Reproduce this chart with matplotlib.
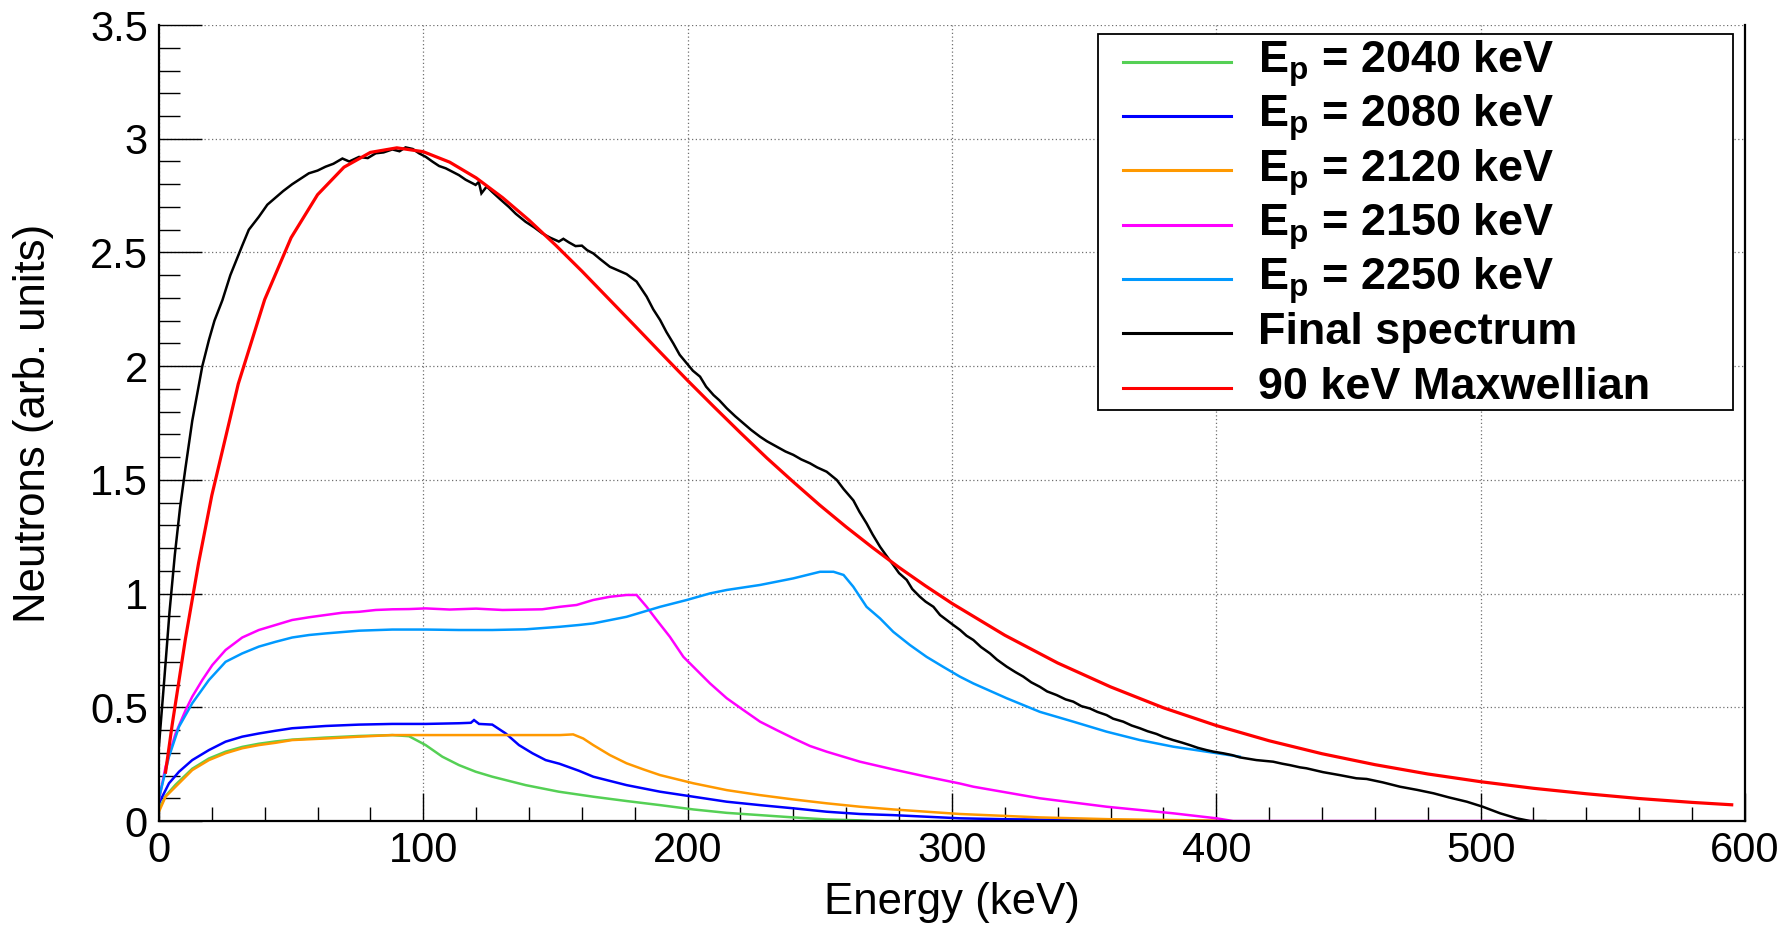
import matplotlib
matplotlib.use("Agg")
import matplotlib.pyplot as plt
import numpy as np
from matplotlib.ticker import MultipleLocator, FuncFormatter
from matplotlib.lines import Line2D

plt.rcParams["font.family"] = ["Liberation Sans", "DejaVu Sans"]
plt.rcParams["mathtext.fontset"] = "custom"
plt.rcParams["mathtext.rm"] = "Liberation Sans"
plt.rcParams["mathtext.bf"] = "Liberation Sans:bold"

# Espectros de neutrones por energia de proton (keV, unidades arbitrarias)
E_2040 = [0, 2.5, 6.3, 12.6, 18.9, 25.2, 31.5, 37.8, 44.1, 50.4, 63, 75.7, 88.3, 94.6,
          100.9, 107.2, 113.5, 119.8, 126.1, 138.7, 151.3, 164.3, 176.9, 189.6, 202.2,
          214.8, 227.4, 240, 252.6, 265.2, 270]
n_2040 = [0.05, 0.11, 0.16, 0.23, 0.275, 0.305, 0.326, 0.34, 0.35, 0.358, 0.367, 0.374,
          0.378, 0.373, 0.334, 0.283, 0.246, 0.217, 0.195, 0.158, 0.129, 0.107, 0.088,
          0.07, 0.051, 0.036, 0.026, 0.016, 0.007, 0.003, 0.0]

E_2080 = [0, 3.8, 7.6, 12.6, 18.9, 25.2, 31.5, 37.8, 44.1, 50.4, 63.1, 75.7, 88.3, 100.9,
          113.5, 118, 119.2, 121.1, 126.1, 131.2, 136.2, 141.3, 146.3, 151.5, 158.9, 164.3,
          176.9, 189.6, 202.2, 214.8, 227.4, 240, 252.6, 265.2, 277.8, 290.4, 303, 320,
          350, 375]
n_2080 = [0.078, 0.166, 0.217, 0.268, 0.312, 0.349, 0.371, 0.385, 0.397, 0.408, 0.418,
          0.424, 0.427, 0.427, 0.43, 0.432, 0.444, 0.427, 0.424, 0.385, 0.334, 0.298, 0.268,
          0.252, 0.221, 0.195, 0.158, 0.129, 0.107, 0.085, 0.07, 0.056, 0.041, 0.031, 0.026,
          0.019, 0.012, 0.008, 0.004, 0.002]

E_2120 = [0, 2.5, 6.3, 12.6, 18.9, 25.2, 31.5, 37.8, 44.1, 50.4, 63.1, 75.7, 88.3, 100.9,
          120, 140, 151.7, 156.7, 160.5, 164.3, 170.6, 176.9, 183.3, 189.6, 202.2, 214.8,
          227.4, 240, 252.6, 265.2, 277.8, 290.4, 303, 333.3, 360, 400]
n_2120 = [0.041, 0.107, 0.151, 0.224, 0.268, 0.298, 0.32, 0.334, 0.344, 0.356, 0.363,
          0.371, 0.378, 0.378, 0.378, 0.378, 0.378, 0.381, 0.363, 0.334, 0.29, 0.254, 0.227,
          0.202, 0.166, 0.136, 0.114, 0.095, 0.078, 0.063, 0.051, 0.041, 0.031, 0.016,
          0.008, 0.002]

E_2150 = [0, 2.5, 6.3, 10.1, 12.6, 16.4, 20.2, 25.2, 31.5, 37.8, 44.1, 50.4, 56.8, 63.1,
          69.4, 75.7, 82, 88.3, 94.6, 100.9, 110, 120, 130, 145, 151.7, 158, 164.3, 170.6,
          176.9, 180.7, 184.5, 188.3, 193.3, 198.4, 202.2, 208.5, 214.8, 221.1, 227.4,
          233.7, 240, 246.3, 252.6, 258.9, 265.2, 277.8, 290.4, 303, 308.1, 333.3, 358.5,
          383.7, 400.1, 406.4, 520]
n_2150 = [0.092, 0.239, 0.385, 0.488, 0.547, 0.62, 0.686, 0.752, 0.807, 0.84, 0.862,
          0.884, 0.896, 0.906, 0.916, 0.92, 0.928, 0.931, 0.932, 0.935, 0.93, 0.934, 0.928,
          0.931, 0.942, 0.95, 0.972, 0.986, 0.994, 0.994, 0.942, 0.884, 0.81, 0.722, 0.678,
          0.605, 0.54, 0.488, 0.437, 0.40, 0.364, 0.33, 0.305, 0.283, 0.261, 0.227, 0.195,
          0.165, 0.151, 0.10, 0.063, 0.034, 0.012, 0.0, 0.0]

E_2250 = [0, 3.8, 7.6, 12.6, 18.9, 25.2, 31.5, 37.8, 44.1, 50.4, 56.8, 63.1, 75.7, 88.3,
          100.9, 113.5, 126.1, 138.7, 151.5, 158.9, 164.3, 176.9, 189.6, 199.7, 208.5,
          214.8, 227.4, 240, 250.1, 255.2, 259, 262.7, 267.7, 272.8, 277.8, 284.1, 290.4,
          296.7, 303, 308.1, 320.7, 333.3, 345.9, 358.5, 371.1, 383.7, 396.3, 408.9]
n_2250 = [0.1, 0.283, 0.415, 0.518, 0.62, 0.70, 0.737, 0.767, 0.788, 0.807, 0.818, 0.825,
          0.837, 0.842, 0.842, 0.84, 0.84, 0.843, 0.854, 0.862, 0.869, 0.898, 0.942, 0.972,
          1.001, 1.016, 1.038, 1.067, 1.096, 1.096, 1.082, 1.03, 0.942, 0.891, 0.832, 0.774,
          0.722, 0.678, 0.635, 0.605, 0.54, 0.48, 0.437, 0.393, 0.356, 0.327, 0.305, 0.283]

E_final = [0, 2, 4, 6, 8, 10, 12.6, 15, 16.4, 18.9, 21, 24, 27, 31.5, 34, 37.8, 41, 44, 47,
           50.4, 53, 56.7, 60, 63, 66, 69.4, 72, 75.7, 79, 82, 85, 88.3, 91, 93.3, 96, 98.4,
           101, 103.4, 106, 108.5, 111, 113.5, 116, 119.8, 121, 122, 124, 126, 129, 132.4,
           135, 138.7, 142, 145, 148, 151.3, 153, 155, 157.6, 160, 162, 164.3, 167, 170.6,
           174, 176.9, 180.7, 184.5, 187, 189.6, 192, 194.6, 197, 199.7, 202, 204.7, 207,
           209.8, 212, 214.8, 218, 221.1, 224, 227.4, 230, 233.7, 237, 240, 243, 246.3, 249,
           252.6, 256.4, 259, 262.7, 265, 267.7, 270, 272.8, 275, 277.8, 280, 282.9, 285,
           287.9, 290, 293, 295.5, 298, 300.5, 303.1, 305.5, 308.1, 311, 314.4, 317, 320.7,
           324, 327, 330, 333.3, 336, 339.6, 343, 345.9, 349, 352.2, 355, 358.5, 361, 364.8,
           368, 371.1, 374, 377.4, 380, 383.7, 387, 390, 393, 396.3, 399, 402.6, 406, 408.9,
           412, 415.2, 418, 421.5, 425, 427.8, 431.7, 434.1, 440.4, 446.7, 453, 456.9, 463,
           469.5, 476, 482.2, 488, 494.8, 500.8, 507.4, 513.7, 518.8, 524.5]
n_final = [0.33, 0.62, 0.92, 1.17, 1.38, 1.55, 1.76, 1.91, 2.0, 2.115, 2.2, 2.29, 2.4, 2.53,
           2.6, 2.657, 2.71, 2.74, 2.77, 2.80, 2.82, 2.848, 2.86, 2.877, 2.89, 2.913, 2.90,
           2.92, 2.915, 2.936, 2.94, 2.953, 2.945, 2.962, 2.955, 2.936, 2.92, 2.90, 2.88,
           2.87, 2.855, 2.84, 2.82, 2.797, 2.81, 2.76, 2.79, 2.767, 2.735, 2.70, 2.67, 2.635,
           2.61, 2.584, 2.565, 2.548, 2.56, 2.545, 2.528, 2.53, 2.51, 2.496, 2.47, 2.437,
           2.42, 2.405, 2.372, 2.306, 2.25, 2.203, 2.15, 2.10, 2.05, 2.012, 1.98, 1.954, 1.91,
           1.873, 1.85, 1.815, 1.78, 1.749, 1.72, 1.69, 1.67, 1.646, 1.625, 1.61, 1.59, 1.573,
           1.555, 1.536, 1.50, 1.46, 1.41, 1.36, 1.309, 1.26, 1.206, 1.17, 1.126, 1.09, 1.06,
           1.02, 0.986, 0.965, 0.942, 0.906, 0.884, 0.862, 0.84, 0.815, 0.796, 0.765, 0.737,
           0.71, 0.679, 0.655, 0.635, 0.61, 0.59, 0.57, 0.554, 0.535, 0.525, 0.505, 0.495,
           0.48, 0.466, 0.45, 0.437, 0.42, 0.408, 0.395, 0.383, 0.37, 0.356, 0.345, 0.334,
           0.322, 0.312, 0.305, 0.298, 0.29, 0.28, 0.274, 0.268, 0.265, 0.261, 0.252, 0.246,
           0.236, 0.232, 0.215, 0.202, 0.188, 0.185, 0.17, 0.151, 0.137, 0.122, 0.104, 0.085,
           0.063, 0.034, 0.012, 0.0, 0.0]

E_maxw = [2.5, 5, 10, 15, 20, 30, 40, 50, 60, 70, 80, 90, 100, 110, 120, 130, 140, 150,
          160, 170, 180, 190, 200, 210, 220, 230, 240, 250, 260, 270, 280, 290, 300, 320,
          340, 360, 380, 400, 420, 440, 460, 480, 500, 520, 540, 560, 580, 595]
n_maxw = [0.215, 0.423, 0.800, 1.135, 1.432, 1.922, 2.293, 2.565, 2.754, 2.875, 2.940,
          2.960, 2.943, 2.897, 2.828, 2.741, 2.642, 2.533, 2.418, 2.298, 2.178, 2.057, 1.937,
          1.821, 1.707, 1.596, 1.491, 1.389, 1.293, 1.202, 1.115, 1.034, 0.957, 0.817,
          0.695, 0.590, 0.498, 0.420, 0.353, 0.296, 0.248, 0.207, 0.173, 0.144, 0.120,
          0.099, 0.082, 0.0715]

series = [
    (E_2040, n_2040, "#55d055", r"$\mathbf{E_p}$ = 2040 keV", 1.8),
    (E_2080, n_2080, "#0000ff", r"$\mathbf{E_p}$ = 2080 keV", 1.8),
    (E_2120, n_2120, "#ff9900", r"$\mathbf{E_p}$ = 2120 keV", 1.8),
    (E_2150, n_2150, "#ff00ff", r"$\mathbf{E_p}$ = 2150 keV", 1.8),
    (E_2250, n_2250, "#0099ff", r"$\mathbf{E_p}$ = 2250 keV", 1.8),
    (E_final, n_final, "#000000", "Final spectrum", 1.8),
    (E_maxw, n_maxw, "#ff0000", "90 keV Maxwellian", 2.3),
]

fig = plt.figure(figsize=(17.88, 9.27), dpi=100)
ax = fig.add_axes([0.0889, 0.1143, 0.8870, 0.8587])

for x, y, color, label, lw in series:
    ax.plot(x, y, color=color, lw=lw, solid_joinstyle="miter")

ax.set_xlim(0, 600)
ax.set_ylim(0, 3.5)
ax.xaxis.set_major_locator(MultipleLocator(100))
ax.xaxis.set_minor_locator(MultipleLocator(20))
ax.yaxis.set_major_locator(MultipleLocator(0.5))
ax.yaxis.set_minor_locator(MultipleLocator(0.1))
ax.yaxis.set_major_formatter(FuncFormatter(lambda v, p: "%g" % v))

ax.tick_params(axis="x", which="major", direction="in", length=20, width=1.0, labelsize=30, pad=7)
ax.tick_params(axis="x", which="minor", direction="in", length=10, width=1.0)
ax.tick_params(axis="y", which="major", direction="in", length=31, width=1.0, labelsize=30, pad=8)
ax.tick_params(axis="y", which="minor", direction="in", length=15, width=1.0)

ax.grid(True, which="major", color="#707070", linestyle=(0, (1, 2)), linewidth=0.9)
ax.set_axisbelow(True)
ax.spines["top"].set_visible(False)
for s in ["left", "bottom", "right"]:
    ax.spines[s].set_linewidth(1.6)

ax.set_xlabel("Energy (keV)", fontsize=31.5)
ax.set_ylabel("Neutrons (arb. units)", fontsize=31.5)
ax.xaxis.set_label_coords(0.5, -0.077)
ax.yaxis.set_label_coords(-0.066, 0.5)

# Leyenda dibujada a mano para que las filas queden equiespaciadas
leg_x0, leg_x1 = 0.592, 0.9924
leg_y0, leg_y1 = 0.5163, 0.9887
ax.add_patch(plt.Rectangle((leg_x0, leg_y0), leg_x1 - leg_x0, leg_y1 - leg_y0,
                           transform=ax.transAxes, facecolor="white", edgecolor="black",
                           lw=1.3, zorder=5))
row_y = 0.954
for x, y, color, label, lw in series:
    ax.add_line(Line2D([0.6078, 0.6759], [row_y, row_y], transform=ax.transAxes,
                       color=color, lw=2.2, zorder=6))
    ax.text(0.693, row_y - 0.0138, label, transform=ax.transAxes, fontsize=32.4,
            fontweight="bold", va="baseline", ha="left", zorder=6)
    row_y -= 0.0683

fig.savefig("out.png", dpi=100)
